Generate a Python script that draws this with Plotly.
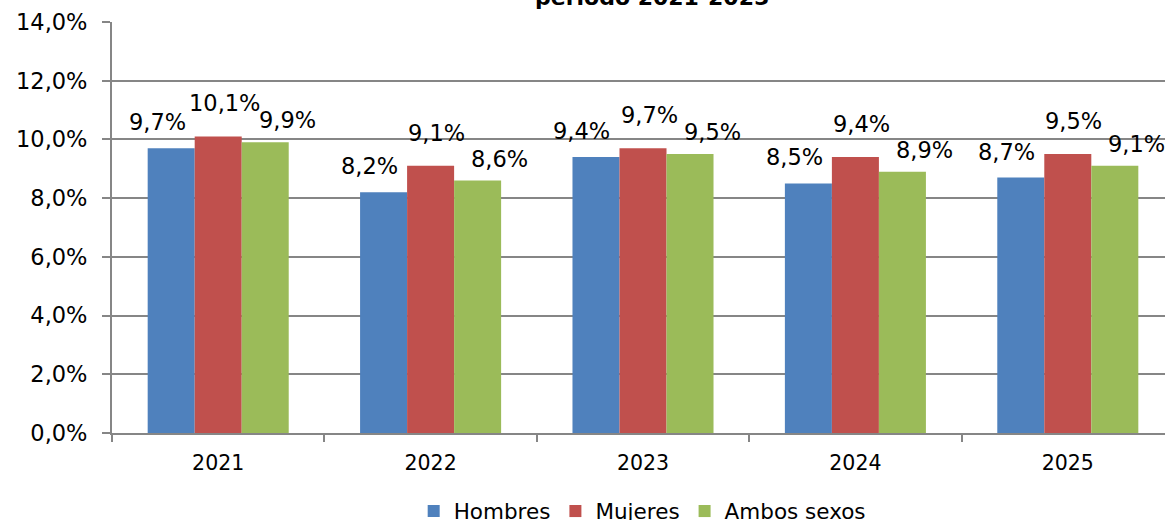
import plotly.graph_objects as go

years = ["2021", "2022", "2023", "2024", "2025"]
hombres = [0.097, 0.082, 0.094, 0.085, 0.087]
mujeres = [0.101, 0.091, 0.097, 0.094, 0.095]
ambos = [0.099, 0.086, 0.095, 0.089, 0.091]
series_names = ["Hombres", "Mujeres", "Ambos sexos"]
colors = ["#4F81BD", "#C0504D", "#9BBB59"]

FONT = "DejaVu Sans"
W, H = 1165, 520
L, R, T, B = 112, 0, 22, 87

fig = go.Figure()
for name, vals, col in zip(series_names, [hombres, mujeres, ambos], colors):
    fig.add_trace(go.Bar(name=name, x=years, y=vals, marker=dict(color=col, line=dict(width=0)),
                         hoverinfo="skip"))

# data labels
offsets = {0: (-14, 11), 1: (6, 18), 2: (22, 7)}
for i, vals in enumerate([hombres, mujeres, ambos]):
    dx, dy = offsets[i]
    for j, v in enumerate(vals):
        fig.add_annotation(x=j + (i - 1) / 3 * (1 - 0.336), y=v, xref="x", yref="y",
                           text=f"{v*100:.1f}%".replace(".", ","), showarrow=False,
                           xanchor="center", yanchor="bottom", xshift=dx, yshift=dy,
                           font=dict(family=FONT, size=22.5, color="black"))

# title (partially visible at top)
fig.add_annotation(text="<b>periodo 2021-2025</b>", xref="paper", yref="paper",
                   x=0.513, y=1 + (22 - 12) / 411, xanchor="center", yanchor="bottom",
                   showarrow=False, font=dict(family=FONT, size=22, color="black"))

span = (W - L) / 212.4
fig.update_layout(
    width=W, height=H, autosize=False,
    margin=dict(l=L, r=R, t=T, b=B, pad=0, autoexpand=False),
    paper_bgcolor="white", plot_bgcolor="white",
    separators=",.",
    barmode="group", bargap=0.336, bargroupgap=0,
    font=dict(family=FONT, size=21, color="black"),
    showlegend=True,
    legend=dict(orientation="h", x=0.5035, xanchor="center", y=-0.19, yanchor="middle",
                font=dict(family=FONT, size=21.5, color="black"),
                itemwidth=30, traceorder="normal"),
)
fig.update_xaxes(type="category", range=[-0.5, -0.5 + span],
                 showline=True, linecolor="#868686", linewidth=2,
                 ticks="outside", tickson="boundaries", ticklen=7, tickcolor="#868686", tickwidth=2,
                 ticklabelstandoff=10,
                 showgrid=False, tickfont=dict(family=FONT, size=20.5, color="black"))
fig.update_yaxes(range=[0, 0.14], dtick=0.02, tickformat=".1%",
                 showline=True, linecolor="#868686", linewidth=2,
                 ticks="outside", ticklen=8, tickcolor="#868686", tickwidth=2,
                 ticklabelstandoff=10,
                 showgrid=True, gridcolor="#868686", gridwidth=2, zeroline=False,
                 tickfont=dict(family=FONT, size=22.5, color="black"))

fig.write_html("out.html", config={"displayModeBar": False},
               post_script="document.body.style.margin='0';document.body.style.overflow='hidden';")
